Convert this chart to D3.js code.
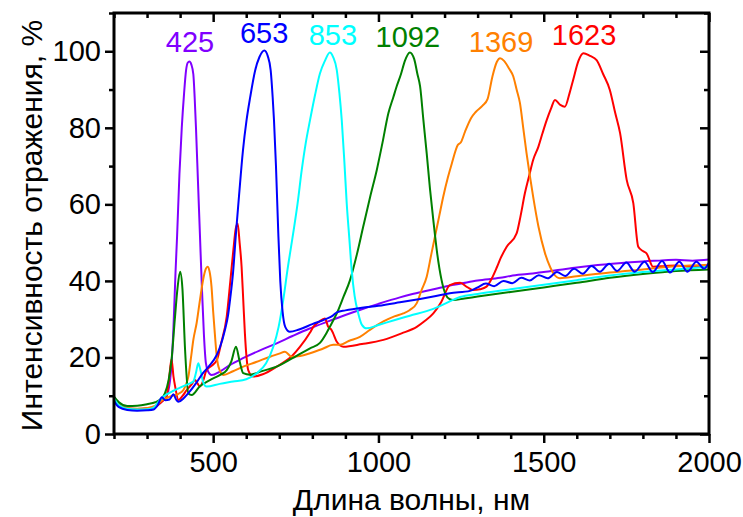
<!DOCTYPE html>
<html lang="ru">
<head>
<meta charset="UTF-8">
<title>Спектры отражения</title>
<style>
  body { margin: 0; background: #fff; }
  text { font-family: "Liberation Sans", Arial, sans-serif; }
  .line { fill: none; stroke-width: 2; stroke-linejoin: round; }
  .axis line { stroke: #000; stroke-width: 2.5; }
  .axis path { display: none; }
  .axis text { font-size: 29px; fill: #000; }
</style>
</head>
<body>
<svg width="743" height="517"></svg>
<script src="https://d3js.org/d3.v7.min.js"></script>
<script>
// spectra: [wavelength nm, reflectance %]
const s425 = [[200,9.5],[215,7.8],[240,6.7],[270,6.5],[300,6.7],[325,7.2],[345,8.5],[360,10],[372,16],[380,28],[386,42],[391,52],[398,68],[405,80],[412,89],[418,95],[423,97],[428,97.3],[434,96.5],[440,94],[444,88],[448,80],[454,66],[460,52],[466,38],[472,26],[478,18.5],[485,16.3],[495,15.4],[520,16.3],[550,18],[590,19.8],[640,21.8],[692,23.7],[740,25.6],[790,27.5],[850,29.5],[900,31.1],[950,32.6],[1000,34],[1065,35.7],[1100,36.5],[1150,37.5],[1200,38.5],[1250,39.3],[1300,40.1],[1368,40.8],[1400,41.3],[1450,41.8],[1500,42.3],[1550,42.9],[1600,43.5],[1650,44],[1700,44.4],[1750,44.8],[1800,45.1],[1850,45.3],[1900,45.5],[1950,45.3],[2000,45.6]];

const s653 = [[200,8.6],[215,7],[240,6.3],[270,6.1],[300,6.2],[320,6.4],[332,7.5],[345,9.6],[355,8.8],[368,9],[380,10.4],[388,9],[395,8.4],[410,9.3],[430,11.2],[450,13.5],[469,15.9],[490,18],[510,20.5],[521,22.8],[535,27],[545,31],[551,35],[560,42],[569,52.5],[578,62],[590,74],[601,82],[612,88],[627,95],[640,98.5],[655,100.2],[665,98.8],[674,95],[680,88],[684,82],[690,70],[697,52.5],[703,40],[710,32],[718,28],[732,26.7],[760,27.3],[800,28.7],[840,30],[863,31],[874,31.8],[900,32.3],[950,33],[1000,33.5],[1065,34.4],[1126,35.3],[1170,36],[1216,36.8],[1277,37.4],[1300,38.3],[1325,39.3],[1350,38.6],[1378,40],[1405,39.4],[1432,40.8],[1458,40.1],[1485,41.5],[1512,40.7],[1540,42.3],[1565,41.3],[1592,43.2],[1618,41.9],[1645,43.9],[1670,42.4],[1698,44.5],[1722,42.6],[1750,44.8],[1775,42.4],[1805,45],[1830,42.3],[1858,45.2],[1882,42.2],[1910,45],[1935,42.4],[1962,45],[1985,43.2],[2000,44.8]];

const s853 = [[200,9.3],[215,7.5],[240,6.6],[270,6.4],[300,6.5],[320,6.9],[339,8.9],[360,10.4],[380,11.3],[400,12.1],[420,12.9],[440,13.7],[448,16],[455,18.5],[462,16.5],[470,13.5],[480,12.4],[520,13.1],[560,13.7],[600,14.3],[632,15.9],[660,18.5],[682,22.8],[698,28],[712,35],[725,43],[742,52.4],[755,60],[768,69],[780,76],[793,82],[808,88.5],[823,94.2],[838,97.5],[853,99.7],[863,98.5],[874,95.1],[882,89],[889,82],[897,71],[904,60.3],[912,51],[919,42.9],[928,36],[939,31.5],[950,28.5],[964,27.6],[1000,28.5],[1050,29.8],[1095,30.9],[1166,32.7],[1200,34],[1247,35.8],[1300,36.6],[1400,37.8],[1500,39],[1600,40.2],[1700,41.4],[1800,42.3],[1900,43],[2000,43.7]];

const s1092 = [[200,9.8],[215,8.3],[240,7.3],[270,7.4],[300,7.8],[325,8.3],[340,9],[354,10.6],[365,14],[374,19.3],[384,30],[392,38],[400,42.4],[407,38],[415,22],[425,10.6],[435,10.2],[460,12.5],[490,14.1],[520,15.4],[541,16.7],[555,19],[569,22.8],[580,19],[591,15.9],[611,15.5],[650,16.5],[692,17.6],[740,19.8],[793,22.4],[823,23.8],[843,26.4],[853,28],[874,31.5],[895,36],[914,40.2],[935,47],[954,54.2],[975,62],[995,69],[1012,76],[1030,83.8],[1045,88],[1055,90.8],[1068,94],[1080,97.5],[1095,99.7],[1108,98],[1118,94],[1126,90.8],[1136,82],[1146,73.3],[1156,64],[1166,55.9],[1178,47],[1191,40.2],[1203,36.5],[1216,35.2],[1226,35],[1260,35.4],[1300,35.9],[1400,37.1],[1500,38.3],[1600,39.5],[1700,40.8],[1800,41.8],[1900,42.6],[2000,43]];

const s1369 = [[200,9.6],[215,7.8],[240,6.8],[270,6.6],[300,6.8],[325,7.4],[345,8.8],[370,9.8],[395,10.5],[410,11.5],[418,13],[425,15],[433,20],[440,24.6],[450,29],[460,35],[470,40.5],[478,43.2],[483,43.7],[489,42.5],[495,38.5],[500,32],[505,26.3],[510,21],[516,17.6],[531,15.4],[560,16.4],[591,17.6],[630,18.8],[672,20.2],[700,21],[717,21.5],[738,20.2],[763,20.4],[793,21.1],[830,22.2],[863,23.3],[884,23.3],[910,24.3],[944,25.4],[974,27.2],[1015,29.4],[1050,30.8],[1075,31.5],[1095,32.4],[1116,34.2],[1130,37.5],[1146,41.1],[1160,47],[1171,51.6],[1184,57],[1196,62],[1210,67],[1222,70.7],[1240,75.5],[1250,76.3],[1262,79],[1280,82.5],[1295,84.2],[1315,85.8],[1330,87.5],[1345,93.5],[1358,97.2],[1368,98.2],[1380,97.5],[1395,95.5],[1408,93.4],[1418,90],[1428,86.5],[1438,80],[1448,73.4],[1458,67.5],[1468,62],[1484,54.2],[1504,47.2],[1520,43.5],[1529,42],[1549,40.7],[1600,41.2],[1700,42.2],[1800,43],[1900,43.8],[2000,44.2]];

const s1623 = [[200,9.3],[215,7.5],[240,6.5],[270,6.3],[300,6.5],[325,7],[345,8.5],[359,9.7],[366,14],[374,19.5],[380,15],[385,12.4],[395,8.9],[408,10],[420,11.5],[435,13],[445,14.1],[452,13.3],[460,12.4],[470,14],[480,16.7],[495,17.8],[511,19.3],[525,24],[541,30.7],[552,40],[561,48],[568,53.5],[574,55],[580,50],[586,43.7],[591,35],[596,26.3],[601,20],[606,16.7],[621,15],[650,15.6],[692,17.6],[740,20.5],[763,22.8],[793,26.5],[803,28],[820,29.3],[838,30.2],[848,28],[858,27.2],[863,26.3],[874,24.1],[894,22.8],[950,23.5],[1015,24.6],[1070,26.3],[1116,28],[1140,29.5],[1166,31.5],[1190,34.5],[1216,38.9],[1247,39.5],[1270,38.3],[1287,37.6],[1307,37.8],[1327,38.5],[1345,41],[1358,43.5],[1370,46],[1388,48.9],[1418,52.4],[1430,57],[1443,62.9],[1456,67.5],[1468,71.6],[1484,75.1],[1496,78.5],[1509,82],[1522,85],[1534,87.3],[1550,86],[1564,85.5],[1578,89],[1589,92.5],[1605,97.5],[1620,99.5],[1640,98.8],[1660,97.7],[1680,94],[1700,89.9],[1716,84],[1731,78.6],[1751,66.4],[1771,60.3],[1786,48.9],[1800,47.8],[1811,47.2],[1831,43.7],[1870,43.9],[1900,44],[1950,43.6],[2000,43.9]];

const peakNames = ["425", "653", "853", "1092", "1369", "1623"];
const peakColors = ["#8000ff", "#0000ff", "#00ffff", "#008000", "#ff8000", "#ff0000"];
// where each peak label sits, in data units
const labelX = [430, 654, 862, 1089, 1371, 1622];
const labelY = [99.8, 102.2, 101.6, 101.2, 99.8, 101.6];

const xMajor = [500, 1000, 1500, 2000];
const xMinor = d3.range(200, 2001, 100).filter(v => v % 500 !== 0);
const yMajor = [0, 20, 40, 60, 80, 100];
const yMinor = [10, 30, 50, 70, 90, 110];

const series = [s425, s653, s853, s1092, s1369, s1623];

const W = 743, H = 517;
const margin = {top: 13, right: 34, bottom: 83, left: 114};
const iw = W - margin.left - margin.right;
const ih = H - margin.top - margin.bottom;

const svg = d3.select("svg");
const g = svg.append("g").attr("transform", `translate(${margin.left},${margin.top})`);

const x = d3.scaleLinear().domain([200, 2000]).range([0, iw]);
const y = d3.scaleLinear().domain([0, 110]).range([ih, 0]);

// curves
const line = d3.line()
    .x(d => x(d[0]))
    .y(d => y(d[1]))
    .curve(d3.curveMonotoneX);

const drawOrder = [0, 5, 4, 3, 2, 1];
g.append("g")
  .selectAll("path")
  .data(drawOrder)
  .join("path")
    .attr("class", "line")
    .attr("stroke", i => peakColors[i])
    .attr("d", i => line(series[i]));

// peak labels
g.append("g")
  .selectAll("text")
  .data(peakNames)
  .join("text")
    .attr("x", (d, i) => x(labelX[i]))
    .attr("y", (d, i) => y(labelY[i]))
    .attr("text-anchor", "middle")
    .attr("fill", (d, i) => peakColors[i])
    .style("font-size", "29px")
    .text(d => d);

// axes: outside ticks bottom/left, inside ticks top/right
g.append("g").attr("class", "axis")
  .attr("transform", `translate(0,${ih})`)
  .call(d3.axisBottom(x).tickValues(xMajor).tickSize(9).tickPadding(8).tickFormat(d3.format("d")));
g.append("g").attr("class", "axis")
  .attr("transform", `translate(0,${ih})`)
  .call(d3.axisBottom(x).tickValues(xMinor).tickSize(5).tickFormat(""));
g.append("g").attr("class", "axis")
  .call(d3.axisTop(x).tickValues(xMajor).tickSize(-9).tickFormat(""));
g.append("g").attr("class", "axis")
  .call(d3.axisTop(x).tickValues(xMinor).tickSize(-5).tickFormat(""));

g.append("g").attr("class", "axis")
  .call(d3.axisLeft(y).tickValues(yMajor).tickSize(9).tickPadding(4));
g.append("g").attr("class", "axis")
  .call(d3.axisLeft(y).tickValues(yMinor).tickSize(5).tickFormat(""));
g.append("g").attr("class", "axis")
  .attr("transform", `translate(${iw},0)`)
  .call(d3.axisRight(y).tickValues(yMajor).tickSize(-9).tickFormat(""));
g.append("g").attr("class", "axis")
  .attr("transform", `translate(${iw},0)`)
  .call(d3.axisRight(y).tickValues(yMinor).tickSize(-5).tickFormat(""));

// frame
g.append("rect")
  .attr("width", iw).attr("height", ih)
  .attr("fill", "none").attr("stroke", "#000").attr("stroke-width", 3);

// axis titles
svg.append("text")
  .attr("x", margin.left + iw / 2)
  .attr("y", 510)
  .attr("text-anchor", "middle")
  .style("font-size", "30px")
  .text("Длина волны, нм");

svg.append("text")
  .attr("transform", `translate(42,${margin.top + ih / 2 + 2}) rotate(-90)`)
  .attr("text-anchor", "middle")
  .style("font-size", "30px")
  .text("Интенсивность отражения, %");
</script>
</body>
</html>
